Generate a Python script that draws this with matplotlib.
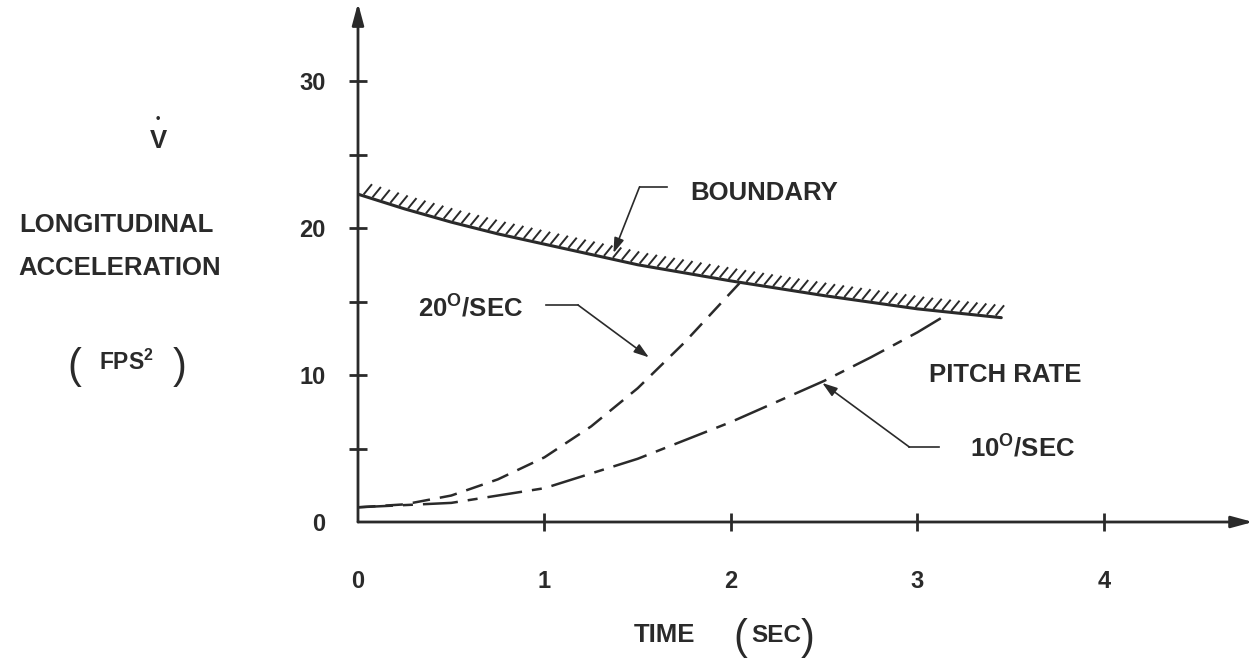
import numpy as np
import matplotlib.pyplot as plt
from matplotlib.collections import LineCollection

plt.rcParams['font.family'] = ['Liberation Sans', 'DejaVu Sans']
plt.rcParams['font.weight'] = 'bold'
plt.rcParams['mathtext.fontset'] = 'custom'
plt.rcParams['mathtext.rm'] = 'Liberation Sans:bold'

# values (time in sec, accel in fps^2)
boundary_t = [0.0, 0.25, 0.5, 0.75, 1.0, 1.5, 2.0, 2.5, 3.0, 3.45]
boundary_v = [22.3, 21.3, 20.4, 19.6, 18.9, 17.5, 16.4, 15.4, 14.5, 13.9]

rate20_t = [0.0, 0.25, 0.5, 0.75, 1.0, 1.25, 1.5, 1.75, 2.05]
rate20_v = [1.0, 1.2, 1.8, 2.9, 4.4, 6.5, 9.1, 12.2, 16.3]

rate10_t = [0.0, 0.5, 1.0, 1.5, 2.0, 2.25, 2.5, 2.75, 3.0, 3.17]
rate10_v = [1.0, 1.3, 2.3, 4.3, 6.8, 8.2, 9.6, 11.2, 12.9, 14.2]

x_ticks = [0, 1, 2, 3, 4]
x_labels = ['0', '1', '2', '3', '4']
y_ticks = [0, 5, 10, 15, 20, 25, 30]
y_labels = ['0', '', '10', '', '20', '', '30']

W, H = 1257, 659
INK = '#2a2a2a'
FS = 18.5


def px(x, y):
    # pixel position -> figure fraction
    return x / W, 1 - y / H


fig = plt.figure(figsize=(W / 100, H / 100), dpi=100)
ax = fig.add_axes([358 / W, (H - 522) / H, 895 / W, 514.5 / H])
ax.set_xlim(0, 4.8)
ax.set_ylim(0, 35)
for s in ax.spines.values():
    s.set_visible(False)

# axes drawn as arrows
arrow_kw = dict(arrowstyle='-|>,head_length=1.3,head_width=0.35', color=INK,
                facecolor='#888888', lw=2, shrinkA=0, shrinkB=0)
ax.annotate('', xy=(4.8, 0), xytext=(0, 0), arrowprops=arrow_kw, annotation_clip=False)
ax.annotate('', xy=(0, 35.3), xytext=(0, 0), arrowprops=arrow_kw, annotation_clip=False)

ax.set_xticks(x_ticks)
ax.set_xticklabels(x_labels)
ax.set_yticks(y_ticks)
ax.set_yticklabels(y_labels)
ax.tick_params(axis='both', direction='inout', length=13, width=2, color=INK,
               labelsize=17, labelcolor=INK)
ax.tick_params(axis='x', pad=28)
ax.tick_params(axis='y', pad=17)
ax.xaxis.get_major_ticks()[0].tick1line.set_visible(False)
ax.yaxis.get_major_ticks()[0].tick1line.set_visible(False)

# boundary line, hatched on the upper side
ax.plot(boundary_t, boundary_v, color=INK, lw=2.2, solid_capstyle='round')
hx = np.linspace(0.03, 3.42, 72)
hy = np.interp(hx, boundary_t, boundary_v)
segs = [[(a, b + 0.1), (a + 0.045, b + 0.8)] for a, b in zip(hx, hy)]
ax.add_collection(LineCollection(segs, colors=INK, linewidths=1.4))

# pitch rate curves
ax.plot(rate20_t, rate20_v, color=INK, lw=1.8, dashes=(7, 4))
ax.plot(rate10_t, rate10_v, color=INK, lw=1.8, dashes=(14, 4, 4, 4))

# leaders with arrow heads
head = dict(arrowstyle='-|>,head_length=0.9,head_width=0.3', color=INK, lw=1.2,
            shrinkA=0, shrinkB=0, facecolor='#999999')
ax.plot([1.51, 1.656], [22.8, 22.8], color=INK, lw=1.2)
ax.annotate('', xy=(1.37, 18.3), xytext=(1.51, 22.8), arrowprops=head)
ax.text(1.78, 22.4, 'BOUNDARY', fontsize=FS, color=INK, va='center')

ax.plot([1.01, 1.18], [14.76, 14.76], color=INK, lw=1.2)
ax.annotate('', xy=(1.56, 11.2), xytext=(1.18, 14.76), arrowprops=head)
ax.text(0.32, 14.6, r'20$^{\mathrm{O}}$/SEC', fontsize=FS, color=INK, va='center')

ax.plot([2.957, 3.118], [5.1, 5.1], color=INK, lw=1.2)
ax.annotate('', xy=(2.49, 9.46), xytext=(2.957, 5.1), arrowprops=head)
ax.text(3.28, 5.1, r'10$^{\mathrm{O}}$/SEC', fontsize=FS, color=INK, va='center')

ax.text(3.06, 10.0, 'PITCH RATE', fontsize=FS, color=INK, va='center')

# y axis label block
fig.text(*px(158, 141), 'V', fontsize=FS, color=INK, ha='center', va='center')
fig.text(*px(158, 119), '\u2022', fontsize=9, color=INK, ha='center', va='center')
fig.text(*px(116, 225), 'LONGITUDINAL', fontsize=FS, color=INK, ha='center', va='center')
fig.text(*px(120, 268), 'ACCELERATION', fontsize=FS, color=INK, ha='center', va='center')
fig.text(*px(126, 362), r'FPS$^{\mathrm{2}}$', fontsize=FS - 2, color=INK,
         ha='center', va='center')
fig.text(*px(74, 367), '(', fontsize=30, color=INK, ha='center', va='center',
         fontweight='normal')
fig.text(*px(180, 367), ')', fontsize=30, color=INK, ha='center', va='center',
         fontweight='normal')

# x axis label
fig.text(*px(665, 635), 'TIME', fontsize=FS, color=INK, ha='center', va='center')
fig.text(*px(776, 635), 'SEC', fontsize=FS - 1, color=INK, ha='center', va='center')
fig.text(*px(740, 638), '(', fontsize=30, color=INK, ha='center', va='center',
         fontweight='normal')
fig.text(*px(808, 638), ')', fontsize=30, color=INK, ha='center', va='center',
         fontweight='normal')

fig.savefig('out.png', dpi=100)
